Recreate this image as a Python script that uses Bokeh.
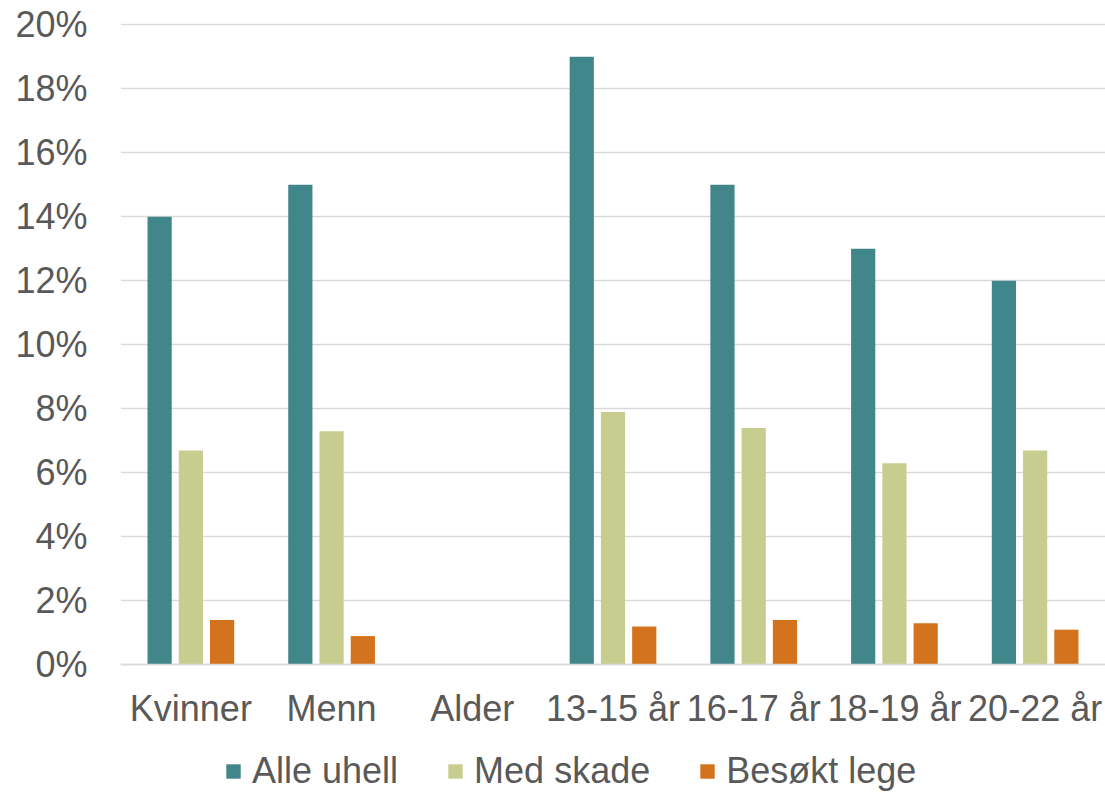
from bokeh.plotting import figure
from bokeh.models import ColumnDataSource, FactorRange, Legend, LegendItem, NumeralTickFormatter, FixedTicker, Range1d
from bokeh.transform import dodge
from bokeh.embed import file_html
from bokeh.resources import INLINE

categories = ["Kvinner", "Menn", "Alder", "13-15 år", "16-17 år", "18-19 år", "20-22 år"]
series_names = ["Alle uhell", "Med skade", "Besøkt lege"]
alle_uhell = [0.14, 0.15, float("nan"), 0.19, 0.15, 0.13, 0.12]
med_skade = [0.067, 0.073, float("nan"), 0.079, 0.074, 0.063, 0.067]
besokt_lege = [0.014, 0.009, float("nan"), 0.012, 0.014, 0.013, 0.011]
y_ticks = [0.0, 0.02, 0.04, 0.06, 0.08, 0.10, 0.12, 0.14, 0.16, 0.18, 0.20]
colors = ["#41868a", "#c7cd8f", "#d3731d"]

FONT = "Liberation Sans"
TXT = "#595959"

src = ColumnDataSource(dict(cat=categories, a=alle_uhell, m=med_skade, b=besokt_lege))

# frame reaches down to the bottom of the page; 0% sits where the reference baseline is
p = figure(x_range=FactorRange(*categories, range_padding=0), y_range=Range1d(-0.0405, 0.2004),
           width=1105, height=794, output_backend="svg", toolbar_location=None,
           min_border_left=120, min_border_right=0, min_border_top=23, min_border_bottom=0)

w = 0.172
off = 0.222
r1 = p.vbar(x=dodge("cat", -off, range=p.x_range), top="a", width=w, source=src, fill_color=colors[0], line_color=None)
r2 = p.vbar(x=dodge("cat", 0, range=p.x_range), top="m", width=w, source=src, fill_color=colors[1], line_color=None)
r3 = p.vbar(x=dodge("cat", off, range=p.x_range), top="b", width=w, source=src, fill_color=colors[2], line_color=None)

p.outline_line_color = None
p.xgrid.grid_line_color = None
p.ygrid.grid_line_color = "#d9d9d9"
p.ygrid.grid_line_width = 1.5

p.yaxis.ticker = FixedTicker(ticks=y_ticks)
p.yaxis.formatter = NumeralTickFormatter(format="0%")
p.yaxis.axis_line_color = None
p.yaxis.major_tick_line_color = None
p.yaxis.minor_tick_line_color = None
p.yaxis.major_label_standoff = 27

p.xaxis.fixed_location = 0
p.xaxis.axis_line_color = "#d9d9d9"
p.xaxis.axis_line_width = 1.5
p.xaxis.major_tick_line_color = None
p.xaxis.major_label_standoff = 17

for ax in (p.xaxis[0], p.yaxis[0]):
    ax.major_label_text_font = FONT
    ax.major_label_text_font_size = "36px"
    ax.major_label_text_color = TXT

legend = Legend(items=[LegendItem(label=series_names[0], renderers=[r1]),
                       LegendItem(label=series_names[1], renderers=[r2]),
                       LegendItem(label=series_names[2], renderers=[r3])],
                orientation="horizontal", location=(104, 2),
                label_text_font=FONT, label_text_font_size="36px", label_text_color=TXT,
                glyph_width=18, glyph_height=18, label_standoff=10, spacing=48,
                padding=0, margin=0, border_line_color=None, background_fill_alpha=0,
                label_height=36)
p.add_layout(legend, "center")

open("out.html", "w").write(file_html(p, INLINE))
